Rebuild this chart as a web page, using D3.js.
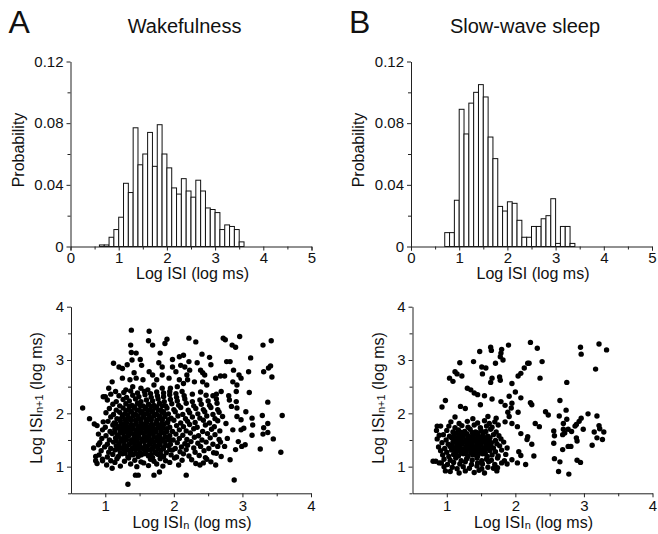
<!DOCTYPE html>
<meta charset="utf-8">
<script src="https://d3js.org/d3.v7.min.js"></script>
<style>
  body { margin: 0; background: #fff; }
  text { font-family: "Liberation Sans", Arial, sans-serif; fill: #111; }
  .domain, .tick line { stroke: #222; }
</style>
<div id="fig"></div>
<script>

// ---- histograms: left edge of each 0.1 bin (log ms) and probability ----
var binsWake = [0.6,0.7,0.8,0.9,1.0,1.1,1.2,1.3,1.4,1.5,1.6,1.7,1.8,1.9,2.0,2.1,2.2,2.3,2.4,2.5,2.6,2.7,2.8,2.9,3.0,3.1,3.2,3.3,3.4,3.5];
var probWake = [0.001,0.001,0.006,0.011,0.019,0.041,0.035,0.077,0.053,0.060,0.074,0.052,0.079,0.060,0.051,0.038,0.034,0.044,0.036,0.032,0.043,0.036,0.025,0.024,0.022,0.011,0.014,0.013,0.011,0.003];

var binsSws = [0.7,0.8,0.9,1.0,1.1,1.2,1.3,1.4,1.5,1.6,1.7,1.8,1.9,2.0,2.1,2.2,2.3,2.4,2.5,2.6,2.7,2.8,2.9,3.0,3.1,3.2,3.3];
var probSws = [0.009,0.009,0.030,0.089,0.073,0.093,0.100,0.105,0.097,0.071,0.057,0.026,0.023,0.029,0.028,0.017,0.006,0.006,0.013,0.013,0.018,0.020,0.031,0.002,0.013,0.013,0.002];

var histXTicks = [0,1,2,3,4,5];
var histXMinor = [0.5,1.5,2.5,3.5,4.5];
var histYTicks = [0,0.04,0.08,0.12];
var histYMinor = [0.02,0.06,0.10];

// ---- return maps: [log ISI n, log ISI n+1] ----
var pairsWake = [
  [0.67,2.10],[0.77,1.90],[0.84,1.80],[0.97,1.84],[0.97,2.31],[0.83,1.35],[0.90,1.41],[0.86,1.19],[0.86,1.11],[0.96,1.11],
  [1.10,0.97],[1.33,0.67],[1.44,0.84],[1.48,0.84],[1.71,0.84],[1.79,0.90],[2.18,0.84],[2.88,0.75],
  [1.38,3.56],[1.64,3.54],[1.63,3.36],[1.69,3.28],[1.90,3.39],[1.87,3.31],[1.37,3.28],[1.38,3.14],[1.45,3.13],[1.80,3.13],
  [1.51,3.01],[1.39,3.00],[1.12,2.94],[1.20,2.87],[1.25,2.84],[1.32,2.91],[1.53,2.90],[1.78,2.95],[1.98,3.01],[2.08,3.06],
  [2.14,3.09],[1.83,2.87],[1.98,2.87],[2.10,2.90],[1.42,2.76],[1.64,2.78],[1.69,2.72],[1.83,2.72],[2.03,2.78],[1.25,2.66],
  [1.10,2.59],[1.05,2.47],[1.36,2.63],[1.45,2.66],[1.55,2.63],[1.75,2.63],[1.93,2.66],[2.08,2.63],[1.15,2.41],[1.30,2.44],
  [1.40,2.50],[1.52,2.47],[1.62,2.44],[1.71,2.53],[1.83,2.47],[1.95,2.47],[2.05,2.50],[2.14,2.56],[1.00,2.31],[1.08,2.36],
  [2.22,3.41],[2.32,3.34],[2.72,3.41],[2.75,3.38],[2.85,3.28],[2.90,3.24],[2.96,3.44],[3.30,3.28],[3.42,3.36],[2.22,2.97],
  [2.34,2.95],[2.41,3.11],[2.52,3.05],[2.54,2.91],[2.77,2.97],[2.82,2.97],[3.12,3.04],[2.16,2.87],[2.23,2.81],[2.39,2.81],
  [2.42,2.76],[2.45,2.72],[2.61,2.66],[2.68,2.70],[2.74,2.70],[2.87,2.81],[2.95,2.72],[2.98,2.66],[3.09,2.78],[3.31,2.78],
  [3.38,2.85],[3.41,2.89],[3.43,2.68],[2.19,2.72],[2.20,2.63],[2.30,2.59],[2.42,2.59],[2.48,2.53],[2.86,2.59],[2.92,2.53],
  [2.69,2.41],[2.91,2.41],[3.10,2.39],[2.27,2.36],[2.39,2.40],[2.47,2.34],[2.57,2.33],[2.62,2.36],[2.80,2.33],
  [3.37,2.21],[3.58,1.96],[3.29,1.96],[3.37,1.81],[3.31,1.73],[3.30,1.61],[3.37,1.64],[3.45,1.52],[3.56,1.27],[3.26,1.33],
  [3.14,1.91],[3.15,1.78],[3.05,2.03],[2.91,2.22],[2.81,2.25],[2.84,2.13],[2.92,2.10],[2.92,1.94],[2.98,1.88],[2.98,1.69],
  [3.02,1.72],[3.14,1.59],[3.04,1.41],[2.99,1.38],[2.94,1.47],[2.90,1.32],[2.82,1.13],[2.69,1.19],[2.61,1.03],[2.54,1.09],
  [2.38,1.03],[2.32,1.06],[2.26,1.13],[2.78,1.53],[2.74,1.38],[2.86,1.69],[2.76,1.81],[2.71,1.94],
  [0.88,1.06],[1.02,1.03],[1.14,1.08],[1.22,1.01],[1.37,1.05],[1.46,1.00],[1.56,1.07],[1.63,1.02],[1.75,1.05],[1.84,1.01],[1.94,1.08],[2.07,1.03],[2.43,1.07],
  [0.96,1.14],[1.08,1.11],[1.17,1.15],[1.28,1.10],[1.34,1.16],[1.43,1.12],[1.52,1.09],[1.66,1.14],[1.71,1.10],[1.80,1.15],[1.88,1.11],[2.01,1.16],[2.12,1.12],[2.48,1.14],
  [0.91,1.22],[1.03,1.18],[1.11,1.23],[1.19,1.19],[1.25,1.24],[1.33,1.18],[1.40,1.22],[1.48,1.19],[1.56,1.24],[1.63,1.20],[1.69,1.17],[1.77,1.23],[1.85,1.19],[1.96,1.22],[2.04,1.18],[2.14,1.24],[2.22,1.20],[2.37,1.21],[2.46,1.17],[2.62,1.25],
  [0.94,1.30],[1.05,1.27],[1.14,1.31],[1.22,1.26],[1.29,1.30],[1.37,1.27],[1.44,1.32],[1.51,1.26],[1.58,1.29],[1.66,1.31],[1.73,1.27],[1.81,1.30],[1.89,1.26],[1.98,1.31],[2.09,1.28],[2.18,1.32],[2.31,1.27],[2.44,1.30],[2.58,1.26],
  [0.99,1.37],[1.08,1.34],[1.16,1.39],[1.24,1.35],[1.31,1.38],[1.39,1.34],[1.46,1.39],[1.54,1.35],[1.61,1.37],[1.68,1.33],[1.76,1.38],[1.84,1.35],[1.92,1.39],[2.02,1.34],[2.11,1.37],[2.20,1.40],[2.29,1.35],[2.39,1.38],[2.51,1.34],[2.64,1.38],
  [0.92,1.45],[1.03,1.42],[1.12,1.46],[1.20,1.43],[1.27,1.47],[1.35,1.42],[1.42,1.45],[1.50,1.43],[1.57,1.47],[1.64,1.42],[1.71,1.46],[1.79,1.43],[1.87,1.47],[1.95,1.42],[2.05,1.45],[2.16,1.43],[2.25,1.47],[2.35,1.44],[2.47,1.46],[2.57,1.42],[2.68,1.46],
  [0.95,1.53],[1.06,1.50],[1.15,1.54],[1.23,1.51],[1.30,1.55],[1.38,1.50],[1.45,1.53],[1.53,1.51],[1.60,1.55],[1.67,1.50],[1.75,1.54],[1.82,1.51],[1.90,1.55],[1.99,1.50],[2.08,1.53],[2.19,1.51],[2.30,1.55],[2.41,1.50],[2.53,1.54],[2.66,1.51],
  [0.90,1.61],[1.01,1.58],[1.10,1.62],[1.18,1.59],[1.26,1.63],[1.33,1.58],[1.41,1.61],[1.48,1.59],[1.56,1.63],[1.63,1.58],[1.70,1.62],[1.78,1.59],[1.86,1.63],[1.94,1.58],[2.03,1.61],[2.13,1.59],[2.24,1.63],[2.36,1.58],[2.49,1.62],[2.60,1.60],
  [0.96,1.69],[1.07,1.66],[1.14,1.70],[1.22,1.67],[1.29,1.71],[1.36,1.66],[1.44,1.69],[1.51,1.67],[1.59,1.71],[1.66,1.66],[1.73,1.70],[1.81,1.67],[1.89,1.71],[1.98,1.66],[2.08,1.69],[2.18,1.67],[2.29,1.71],[2.42,1.66],[2.55,1.70],[2.67,1.67],
  [0.88,1.77],[1.00,1.74],[1.11,1.78],[1.19,1.75],[1.27,1.79],[1.34,1.74],[1.41,1.77],[1.49,1.75],[1.56,1.79],[1.63,1.74],[1.70,1.78],[1.78,1.75],[1.85,1.79],[1.94,1.74],[2.04,1.77],[2.14,1.75],[2.23,1.79],[2.34,1.74],[2.46,1.78],[2.59,1.75],
  [1.04,1.85],[1.13,1.82],[1.22,1.86],[1.30,1.83],[1.37,1.87],[1.45,1.82],[1.52,1.85],[1.60,1.83],[1.67,1.87],[1.75,1.82],[1.83,1.86],[1.91,1.83],[2.00,1.87],[2.10,1.82],[2.20,1.85],[2.31,1.83],[2.43,1.87],[2.52,1.82],[2.64,1.86],
  [1.08,1.93],[1.17,1.90],[1.25,1.94],[1.33,1.91],[1.41,1.95],[1.48,1.90],[1.56,1.93],[1.64,1.91],[1.71,1.95],[1.79,1.90],[1.87,1.94],[1.96,1.91],[2.06,1.95],[2.17,1.90],[2.27,1.93],[2.38,1.91],[2.48,1.95],[2.60,1.90],
  [1.01,2.01],[1.12,1.98],[1.21,2.02],[1.29,1.99],[1.37,2.03],[1.44,1.98],[1.52,2.01],[1.60,1.99],[1.68,2.03],[1.75,1.98],[1.83,2.02],[1.92,1.99],[2.02,2.03],[2.13,1.98],[2.23,2.01],[2.35,1.99],[2.45,2.03],[2.57,1.98],[2.66,2.02],
  [1.06,2.09],[1.16,2.06],[1.26,2.10],[1.34,2.07],[1.42,2.11],[1.50,2.06],[1.58,2.09],[1.65,2.07],[1.73,2.11],[1.81,2.06],[1.90,2.10],[2.00,2.07],[2.10,2.11],[2.21,2.06],[2.32,2.09],[2.43,2.07],[2.54,2.11],[2.64,2.07],
  [1.11,2.17],[1.21,2.14],[1.30,2.18],[1.39,2.15],[1.47,2.19],[1.55,2.14],[1.63,2.17],[1.71,2.15],[1.79,2.19],[1.88,2.14],[1.97,2.18],[2.07,2.15],[2.18,2.19],[2.29,2.14],[2.40,2.17],[2.52,2.15],[2.63,2.19],
  [1.03,2.25],[1.16,2.22],[1.26,2.26],[1.35,2.23],[1.44,2.27],[1.52,2.22],[1.60,2.25],[1.69,2.23],[1.77,2.27],[1.86,2.22],[1.95,2.26],[2.05,2.23],[2.16,2.27],[2.27,2.22],[2.38,2.25],[2.50,2.23],[2.62,2.27],
  [1.20,2.33],[1.31,2.30],[1.40,2.34],[1.49,2.31],[1.58,2.35],[1.67,2.30],[1.76,2.33],[1.85,2.31],[1.94,2.35],[2.04,2.30],[2.15,2.33],
  [1.27,2.39],[1.37,2.42],[1.47,2.38],[1.57,2.41],[1.66,2.37],[1.75,2.40],[1.85,2.38],[1.94,2.41],[2.03,2.37],[2.12,2.41],
  // densest part of the cloud
  [1.29,1.25],[1.37,1.23],[1.44,1.25],[1.52,1.22],[1.60,1.24],[1.67,1.23],[1.74,1.25],[1.81,1.22],
  [1.18,1.33],[1.26,1.34],[1.33,1.32],[1.41,1.35],[1.48,1.33],[1.55,1.34],[1.62,1.32],[1.70,1.35],[1.77,1.33],[1.85,1.34],[1.94,1.32],
  [1.20,1.41],[1.28,1.40],[1.35,1.42],[1.43,1.40],[1.50,1.41],[1.58,1.39],[1.65,1.42],[1.72,1.40],[1.80,1.41],[1.88,1.40],
  [1.16,1.49],[1.24,1.48],[1.31,1.50],[1.39,1.47],[1.46,1.49],[1.54,1.48],[1.61,1.50],[1.68,1.47],[1.76,1.49],[1.84,1.48],[1.93,1.50],
  [1.19,1.57],[1.27,1.56],[1.34,1.58],[1.42,1.55],[1.49,1.57],[1.57,1.56],[1.64,1.58],[1.71,1.55],[1.79,1.57],[1.87,1.56],
  [1.14,1.65],[1.22,1.64],[1.30,1.66],[1.37,1.63],[1.45,1.65],[1.52,1.64],[1.60,1.66],[1.67,1.63],[1.74,1.65],[1.82,1.64],[1.90,1.66],
  [1.18,1.73],[1.25,1.72],[1.33,1.74],[1.40,1.71],[1.48,1.73],[1.55,1.72],[1.62,1.74],[1.69,1.71],[1.77,1.73],[1.84,1.72],
  [1.15,1.81],[1.23,1.80],[1.31,1.82],[1.38,1.79],[1.45,1.81],[1.53,1.80],[1.60,1.82],[1.67,1.79],[1.74,1.81],[1.82,1.80],[1.90,1.82],
  [1.21,1.89],[1.29,1.88],[1.37,1.90],[1.44,1.87],[1.52,1.89],[1.60,1.88],[1.67,1.90],[1.75,1.87],[1.83,1.89],[1.92,1.88],
  [1.25,1.97],[1.33,1.96],[1.41,1.98],[1.48,1.95],[1.56,1.97],[1.64,1.96],[1.72,1.98],[1.79,1.95],[1.87,1.97],
  [1.30,2.05],[1.38,2.04],[1.46,2.06],[1.54,2.03],[1.62,2.05],[1.69,2.04],[1.77,2.06],[1.85,2.03],
  [1.35,2.13],[1.43,2.12],[1.51,2.14],[1.59,2.11],[1.67,2.13],[1.75,2.12],[1.83,2.14]
];

var pairsSws = [
  [2.22,3.33],[1.90,3.28],[1.64,3.24],[1.65,3.18],[1.80,3.20],[1.79,3.13],[1.78,3.06],[1.82,3.00],[1.48,3.16],[1.71,2.94],
  [1.39,2.97],[1.51,2.87],[1.57,2.85],[1.19,2.95],[1.52,2.74],[1.12,2.78],[1.15,2.74],[1.22,2.70],[1.04,2.66],[1.09,2.60],
  [1.66,2.66],[1.64,2.58],[1.77,2.68],[1.78,2.62],[1.95,2.56],[2.04,2.70],[2.08,2.75],[2.13,2.85],[2.18,2.94],[1.30,2.47],
  [1.35,2.44],[1.40,2.38],[1.45,2.35],[1.55,2.33],[0.98,2.24],[0.93,2.12],[1.66,2.27],[1.79,2.22],[1.91,2.32],[2.00,2.40],
  [2.08,2.29],[1.95,2.19],[1.94,2.10],[2.22,2.20],[1.85,2.15],[1.20,2.13],[1.27,2.09],[1.49,2.16],[1.89,2.02],[1.91,1.94],
  [2.04,2.02],[1.85,1.84],[1.95,1.81],[2.03,1.75],[2.08,1.62],[2.18,1.56],[2.05,1.28],[2.08,1.21],[2.03,1.07],[2.15,1.04],
  [1.95,1.13],[1.74,0.98],[0.86,1.76],[0.91,1.76],[0.85,1.68],[0.89,1.59],[0.80,1.10],[0.84,1.10],[0.89,1.07],[0.96,1.00],[0.98,0.92],
  [2.32,3.22],[2.20,2.94],[2.39,2.97],[2.36,2.66],[2.95,3.24],[2.96,3.11],[3.22,3.30],[3.33,3.19],[3.17,2.83],[2.75,2.58],
  [2.24,2.16],[2.65,2.24],[2.44,2.03],[2.48,1.97],[2.74,2.06],[2.64,1.95],[2.75,1.89],[3.06,1.99],[3.19,1.95],[2.96,1.91],
  [2.93,1.85],[2.89,1.79],[2.29,1.81],[2.35,1.75],[2.70,1.81],[2.87,1.76],[3.22,1.77],[3.23,1.71],[3.29,1.65],[2.56,1.67],
  [2.57,1.58],[2.70,1.70],[2.72,1.63],[2.77,1.70],[2.82,1.66],[2.99,1.70],[3.15,1.65],[3.19,1.54],[3.27,1.51],[2.89,1.54],
  [2.90,1.48],[2.69,1.60],[2.56,1.44],[2.24,1.42],[2.17,1.51],[3.12,1.40],[2.77,1.38],[2.81,1.38],[2.69,1.32],[2.27,1.20],
  [2.57,1.15],[2.65,1.09],[2.90,1.12],[2.95,1.08],[2.63,0.91],[2.78,0.86],
  [1.05,0.91],[1.18,0.88],[1.27,0.92],[1.40,0.89],[1.47,0.93],[1.55,0.88],[1.73,0.92],
  [1.08,0.99],[1.15,0.96],[1.24,1.00],[1.33,0.97],[1.44,1.01],[1.51,0.96],[1.60,0.99],[1.68,0.97],
  [0.92,1.07],[1.01,1.04],[1.10,1.08],[1.19,1.05],[1.27,1.09],[1.36,1.04],[1.45,1.07],[1.52,1.05],[1.61,1.09],[1.70,1.04],[1.80,1.07],[1.88,1.05],
  [0.96,1.14],[1.05,1.12],[1.13,1.16],[1.21,1.11],[1.29,1.15],[1.37,1.12],[1.44,1.16],[1.51,1.11],[1.58,1.14],[1.65,1.12],[1.74,1.16],[1.84,1.11],
  [0.94,1.22],[1.03,1.19],[1.10,1.23],[1.17,1.20],[1.24,1.24],[1.31,1.19],[1.38,1.22],[1.45,1.20],[1.52,1.24],[1.59,1.19],[1.66,1.22],[1.75,1.20],[1.86,1.23],
  [0.91,1.30],[1.00,1.27],[1.07,1.31],[1.14,1.28],[1.21,1.32],[1.28,1.27],[1.35,1.30],[1.42,1.28],[1.49,1.32],[1.56,1.27],[1.63,1.30],[1.71,1.28],[1.80,1.31],
  [0.88,1.37],[0.97,1.34],[1.05,1.38],[1.12,1.35],[1.19,1.39],[1.26,1.34],[1.33,1.37],[1.40,1.35],[1.47,1.39],[1.54,1.34],[1.61,1.37],[1.68,1.35],[1.77,1.39],[1.88,1.35],
  [0.93,1.45],[1.02,1.42],[1.09,1.46],[1.16,1.43],[1.23,1.47],[1.30,1.42],[1.37,1.45],[1.44,1.43],[1.51,1.47],[1.58,1.42],[1.65,1.45],[1.73,1.43],[1.83,1.46],
  [0.86,1.52],[0.99,1.50],[1.07,1.54],[1.14,1.49],[1.21,1.53],[1.28,1.50],[1.35,1.54],[1.42,1.49],[1.49,1.52],[1.56,1.50],[1.63,1.54],[1.71,1.49],[1.79,1.52],
  [0.95,1.60],[1.04,1.57],[1.11,1.61],[1.18,1.58],[1.25,1.62],[1.32,1.57],[1.39,1.60],[1.46,1.58],[1.53,1.62],[1.60,1.57],[1.68,1.60],[1.76,1.58],
  [1.00,1.68],[1.09,1.65],[1.17,1.69],[1.26,1.66],[1.34,1.70],[1.42,1.65],[1.50,1.68],[1.57,1.66],[1.64,1.70],[1.72,1.65],
  [1.03,1.76],[1.12,1.73],[1.22,1.77],[1.31,1.74],[1.40,1.78],[1.49,1.73],[1.58,1.76],[1.66,1.74],[1.75,1.78],
  [1.06,1.84],[1.18,1.81],[1.30,1.85],[1.45,1.82],[1.55,1.86],[1.62,1.81],[1.70,1.84],
  [1.12,1.93],[1.38,1.90],[1.60,1.94],[1.72,1.91],
  // densest part of the cloud
  [1.13,1.25],[1.21,1.26],[1.28,1.24],[1.35,1.26],[1.42,1.25],[1.49,1.26],[1.56,1.24],
  [1.10,1.33],[1.17,1.34],[1.24,1.32],[1.31,1.34],[1.38,1.33],[1.45,1.34],[1.52,1.32],[1.59,1.34],
  [1.08,1.41],[1.15,1.40],[1.22,1.42],[1.29,1.40],[1.36,1.41],[1.43,1.39],[1.50,1.41],[1.57,1.40],[1.64,1.41],
  [1.12,1.48],[1.19,1.49],[1.26,1.47],[1.33,1.49],[1.40,1.48],[1.47,1.49],[1.54,1.47],[1.61,1.49],
  [1.10,1.56],[1.17,1.55],[1.24,1.57],[1.31,1.55],[1.38,1.56],[1.45,1.55],[1.52,1.56],[1.59,1.55],
  [1.14,1.63],[1.21,1.64],[1.29,1.62],[1.37,1.64],[1.45,1.63],[1.53,1.64]
];

var mapTicks = [1,2,3,4];
var mapMinor = [1.5,2.5,3.5];
var mapYMinor = [0.5,1.5,2.5,3.5];

var svg = d3.select("#fig")
  .append("svg")
    .attr("width", 658)
    .attr("height", 534);

function styleAxis(g, size) {
  g.selectAll("text").style("font-size", size + "px").style("font-family", "'Liberation Sans', Arial, sans-serif").attr("fill", "#111");
  g.selectAll(".domain, .tick line").attr("stroke", "#222");
}

function histogram(left, bins, probs, letter, title) {
  var x = d3.scaleLinear().domain([0, 5]).range([left, left + 241]);
  var y = d3.scaleLinear().domain([0, 0.12]).range([246.5, 61.5]);

  svg.append("g")
    .selectAll("rect")
    .data(bins)
    .enter()
    .append("rect")
      .attr("x", function(d) { return x(d); })
      .attr("y", function(d, i) { return y(probs[i]); })
      .attr("width", function(d) { return x(d + 0.1) - x(d); })
      .attr("height", function(d, i) { return y(0) - y(probs[i]); })
      .attr("fill", "#fff")
      .attr("stroke", "#111")
      .attr("stroke-width", 1);

  var gx = svg.append("g").attr("transform", "translate(0,246.5)")
    .call(d3.axisBottom(x).tickValues(histXTicks).tickFormat(d3.format("d")).tickSize(4).tickPadding(1.5));
  styleAxis(gx, 15);
  svg.append("g").attr("transform", "translate(0,246.5)")
    .call(d3.axisBottom(x).tickValues(histXMinor).tickFormat("").tickSize(3).tickSizeOuter(0))
    .call(function(g) { g.select(".domain").remove(); g.selectAll("line").attr("stroke", "#222"); });

  var gy = svg.append("g").attr("transform", "translate(" + left + ",0)")
    .call(d3.axisLeft(y).tickValues(histYTicks).tickFormat(function(d) { return d === 0 ? "0" : d3.format(".2f")(d); }).tickSize(4).tickPadding(3).tickSizeOuter(0));
  styleAxis(gy, 15);
  svg.append("g").attr("transform", "translate(" + left + ",0)")
    .call(d3.axisLeft(y).tickValues(histYMinor).tickFormat("").tickSize(3))
    .call(function(g) { g.select(".domain").remove(); g.selectAll("line").attr("stroke", "#222"); });

  svg.append("text")
    .attr("x", left - 62)
    .attr("y", 33)
    .style("font-size", "32px")
    .text(letter);

  svg.append("text")
    .attr("x", left + 114)
    .attr("y", 33)
    .attr("text-anchor", "middle")
    .style("font-size", "20px")
    .text(title);

  svg.append("text")
    .attr("transform", "translate(" + (left - 47) + ",150) rotate(-90)")
    .attr("text-anchor", "middle")
    .style("font-size", "16px")
    .text("Probability");

  svg.append("text")
    .attr("x", left + 122)
    .attr("y", 279)
    .attr("text-anchor", "middle")
    .style("font-size", "16px")
    .text("Log ISI (log ms)");
}

function returnMap(left, pairs) {
  var x = d3.scaleLinear().domain([0.5, 4]).range([left, left + 240]);
  var y = d3.scaleLinear().domain([0.5, 4]).range([493.3, 306.7]);

  svg.append("g")
    .selectAll("circle")
    .data(pairs)
    .enter()
    .append("circle")
      .attr("cx", function(d) { return x(d[0]); })
      .attr("cy", function(d) { return y(d[1]); })
      .attr("r", 2.7)
      .attr("fill", "#000");

  var gx = svg.append("g").attr("transform", "translate(0,493.3)")
    .call(d3.axisBottom(x).tickValues(mapTicks).tickFormat(d3.format("d")).tickSize(4).tickPadding(3.5).tickSizeOuter(0));
  styleAxis(gx, 15);
  svg.append("g").attr("transform", "translate(0,493.3)")
    .call(d3.axisBottom(x).tickValues(mapMinor).tickFormat("").tickSize(3))
    .call(function(g) { g.select(".domain").remove(); g.selectAll("line").attr("stroke", "#222"); });

  var gy = svg.append("g").attr("transform", "translate(" + left + ",0)")
    .call(d3.axisLeft(y).tickValues(mapTicks).tickFormat(d3.format("d")).tickSize(4).tickPadding(3).tickSizeOuter(0));
  styleAxis(gy, 15);
  svg.append("g").attr("transform", "translate(" + left + ",0)")
    .call(d3.axisLeft(y).tickValues(mapYMinor).tickFormat("").tickSize(3))
    .call(function(g) { g.select(".domain").remove(); g.selectAll("line").attr("stroke", "#222"); });

  var xl = svg.append("text")
    .attr("x", left + 121)
    .attr("y", 528)
    .attr("text-anchor", "middle")
    .style("font-size", "16px");
  xl.append("tspan").text("Log ISI");
  xl.append("tspan").style("font-size", "11px").attr("dy", 1).text("n");
  xl.append("tspan").attr("dy", -1).text(" (log ms)");

  var yl = svg.append("text")
    .attr("transform", "translate(" + (left - 29) + ",398) rotate(-90)")
    .attr("text-anchor", "middle")
    .style("font-size", "16px");
  yl.append("tspan").text("Log ISI");
  yl.append("tspan").style("font-size", "11px").attr("dy", 1).text("n+1");
  yl.append("tspan").attr("dy", -1).text(" (log ms)");
}

histogram(70.5, binsWake, probWake, "A", "Wakefulness");
histogram(411, binsSws, probSws, "B", "Slow-wave sleep");
returnMap(71, pairsWake);
returnMap(412.5, pairsSws);

</script>
